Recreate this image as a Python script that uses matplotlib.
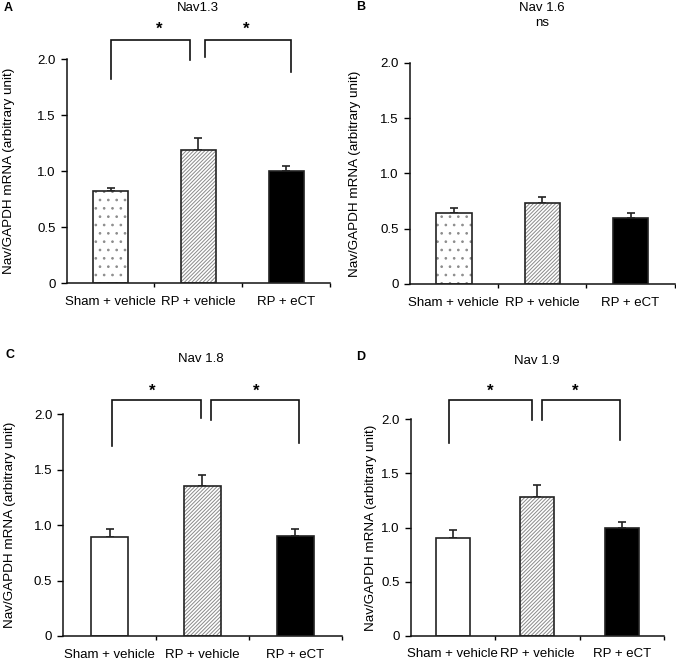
import matplotlib
matplotlib.use("Agg")
import matplotlib.pyplot as plt
import numpy as np

plt.rcParams['font.family'] = ['Liberation Sans', 'DejaVu Sans']
plt.rcParams['hatch.linewidth'] = 0.7

categories = ["Sham + vehicle", "RP + vehicle", "RP + eCT"]
ytick_vals = [0, 0.5, 1.0, 1.5, 2.0]
ytick_labels = ["0", "0.5", "1.0", "1.5", "2.0"]

nav13 = [0.82, 1.19, 1.00]
nav13_err = [0.03, 0.11, 0.05]
nav16 = [0.64, 0.735, 0.60]
nav16_err = [0.045, 0.05, 0.045]
nav18 = [0.89, 1.35, 0.905]
nav18_err = [0.075, 0.10, 0.06]
nav19 = [0.905, 1.285, 1.00]
nav19_err = [0.075, 0.105, 0.05]

titles = ["Nav1.3", "Nav 1.6", "Nav 1.8", "Nav 1.9"]
letters = ["A", "B", "C", "D"]

W, H = 676, 663
fig = plt.figure(figsize=(W / 100, H / 100), dpi=100)

def px_axes(left, right, top, bottom):
    return [left / W, 1 - bottom / H, (right - left) / W, (bottom - top) / H]

# panel layout in pixels: left, right, top(y=2.0), bottom(y=0)
layouts = [
    (66.7, 330.0, 59.3, 283.3),
    (409.7, 674.7, 62.7, 284.0),
    (63.3, 341.7, 414.3, 636.0),
    (410.7, 664.0, 419.3, 635.7),
]
ylabel_x = [-0.198, -0.185, -0.170, -0.133]
values = [nav13, nav16, nav18, nav19]
errors = [nav13_err, nav16_err, nav18_err, nav19_err]
sham_dotted = [True, True, False, False]

# brackets: (x_left, y_left_bottom, x_right, y_right_bottom, y_top, star_x, star_y)
brackets = [
    [(0.505, 1.82, 1.41, 1.99, 2.17, 1.05, 2.27), (1.58, 2.02, 2.55, 1.89, 2.17, 2.04, 2.27)],
    [],
    [(0.53, 1.71, 1.48, 1.97, 2.13, 0.96, 2.21), (1.59, 1.95, 2.54, 1.74, 2.13, 2.08, 2.21)],
    [(0.45, 1.78, 1.44, 1.99, 2.18, 0.94, 2.26), (1.56, 1.99, 2.48, 1.81, 2.18, 1.95, 2.26)],
]

title_pos = [(198, 8), (542, 8), (201, 359), (537, 361)]
letter_pos = [(4, 8), (356, 7), (6, 355), (356, 357)]

x = np.arange(len(categories)) + 0.5
bw = 0.4
FS = 9.5

for i in range(4):
    ax = fig.add_axes(px_axes(*layouts[i]))
    vals = values[i]
    errs = errors[i]
    # Sham bar
    if sham_dotted[i]:
        ax.bar(x[0], vals[0], width=bw, color='white', edgecolor='#8c8c8c', hatch='..', linewidth=0, zorder=2)
    else:
        ax.bar(x[0], vals[0], width=bw, color='white', linewidth=0, zorder=2)
    # RP + vehicle hatched
    ax.bar(x[1], vals[1], width=bw, color='white', edgecolor='#8a8a8a', hatch='/' * 9, linewidth=0, zorder=2)
    # RP + eCT black
    ax.bar(x[2], vals[2], width=bw, color='black', linewidth=0, zorder=2)
    # outlines
    ax.bar(x, vals, width=bw, color='none', edgecolor='#222222', linewidth=1.2, zorder=3)
    ax.errorbar(x, vals, yerr=[np.zeros(3), errs], fmt='none', ecolor='#222222',
                elinewidth=1.2, capsize=3, capthick=1.2, zorder=1)

    ax.set_xlim(0, 3)
    ax.set_ylim(0, 2.0)
    for s in ['top', 'right']:
        ax.spines[s].set_visible(False)
    for s in ['left', 'bottom']:
        ax.spines[s].set_linewidth(1.1)
        ax.spines[s].set_color('#111111')
    ax.set_yticks(ytick_vals)
    ax.set_yticklabels(ytick_labels, fontsize=FS)
    ax.tick_params(axis='y', length=4.5, width=1.0, pad=3.5, direction='out')
    ax.set_xticks([1, 2, 3])
    ax.set_xticklabels([])
    ax.tick_params(axis='x', which='major', length=3, width=1.0, direction='out')
    ax.set_xticks(x, minor=True)
    ax.set_xticklabels(categories, minor=True, fontsize=FS)
    ax.tick_params(axis='x', which='minor', length=0, pad=9)
    ax.set_ylabel("Nav/GAPDH mRNA (arbitrary unit)", fontsize=9.7)
    ax.yaxis.set_label_coords(ylabel_x[i], 0.5)

    for (xl, yl, xr, yr, yt, sx, sy) in brackets[i]:
        ax.plot([xl, xl, xr, xr], [yl, yt, yt, yr], color='#111111', linewidth=1.2,
                clip_on=False, solid_joinstyle='miter')
        ax.text(sx, sy, "*", ha='center', va='center', fontsize=12, fontweight='bold', clip_on=False)

    tx, ty = title_pos[i]
    fig.text(tx / W, 1 - ty / H, titles[i], ha='center', va='center', fontsize=FS)
    lx, ly = letter_pos[i]
    fig.text(lx / W, 1 - ly / H, letters[i], ha='left', va='center', fontsize=9, fontweight='bold')

fig.text(542 / W, 1 - 23 / H, "ns", ha='center', va='center', fontsize=FS)

fig.savefig("out.png", dpi=100)
